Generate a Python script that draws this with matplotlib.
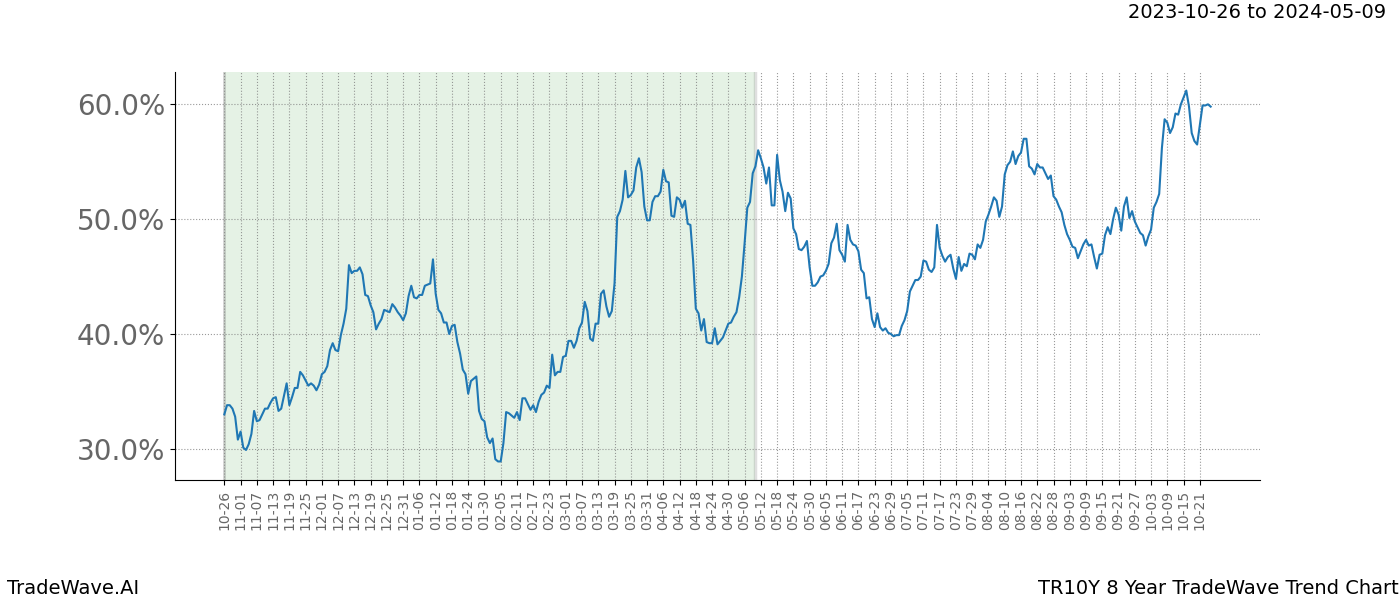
import matplotlib
matplotlib.use('Agg')
import matplotlib.pyplot as plt

# day offset from 2023-10-26 and trend value in percent
days = [0, 1, 2, 3, 4, 5, 6, 7, 8, 9, 10, 11, 12, 13, 14, 15, 16, 17, 18, 19, 20, 21, 23, 24, 25, 26, 27, 28, 29, 31,
        32, 33, 34, 35, 36, 37, 38, 39, 40, 41, 42, 43, 44, 45, 46, 47, 48, 49, 50, 51, 52, 53, 54, 55, 56, 57, 58, 59, 60,
        61, 62, 63, 64, 65, 66, 67, 68, 69, 70, 71, 72, 73, 74, 75, 76, 77, 78, 79, 80, 81, 82, 83, 84, 85, 86, 87, 88, 89,
        90, 91, 92, 93, 94, 95, 96, 97, 98, 99, 100, 101, 102, 103, 104, 105, 106, 107, 108, 109, 110, 111, 112, 113, 114,
        115, 116, 117, 118, 119, 120, 121, 122, 123, 124, 125, 126, 127, 128, 129, 130, 131, 132, 133, 134, 135, 136, 137,
        138, 139, 140, 141, 142, 143, 144, 145, 146, 147, 148, 149, 150, 151, 152, 153, 154, 155, 156, 157, 158, 159, 160,
        161, 162, 163, 164, 165, 166, 167, 168, 169, 170, 171, 172, 173, 174, 175, 176, 177, 178, 179, 180, 181, 182, 183,
        184, 186, 187, 188, 189, 190, 191, 192, 193, 194, 195, 196, 197, 198, 199, 200, 201, 202, 203, 204, 205, 206, 207,
        208, 209, 210, 211, 212, 213, 214, 215, 216, 217, 218, 219, 220, 221, 222, 223, 224, 225, 226, 227, 228, 229, 230,
        231, 232, 233, 234, 235, 236, 237, 238, 239, 240, 241, 242, 243, 244, 245, 246, 247, 248, 249, 250, 251, 252, 253,
        254, 255, 256, 257, 258, 259, 260, 261, 262, 263, 264, 265, 266, 267, 268, 269, 270, 271, 272, 273, 274, 275, 276,
        277, 278, 279, 280, 281, 282, 283, 284, 285, 286, 287, 288, 289, 290, 291, 292, 293, 294, 295, 296, 297, 298, 299,
        300, 301, 302, 303, 304, 305, 306, 307, 308, 309, 310, 311, 312, 313, 314, 315, 316, 317, 318, 319, 320, 321, 322,
        323, 324, 325, 326, 327, 328, 329, 330, 331, 332, 333, 334, 335, 336, 337, 338, 339, 340, 341, 342, 343, 344, 345,
        346, 347, 348, 349, 350, 351, 352, 353, 354, 355, 356, 357, 358, 359, 360, 361, 362, 363, 364]
values = [33.0, 33.8, 33.8, 33.5, 32.8, 30.8, 31.5, 30.1, 29.9, 30.4, 31.3, 33.3, 32.4, 32.5, 33.0, 33.5, 33.5, 34.0,
          34.4, 34.5, 33.3, 33.5, 35.7, 33.8, 34.5, 35.3, 35.3, 36.7, 36.4, 35.5, 35.7, 35.5, 35.1, 35.6, 36.5, 36.7,
          37.2, 38.6, 39.2, 38.6, 38.5, 39.9, 40.9, 42.2, 46.0, 45.3, 45.5, 45.5, 45.8, 45.2, 43.4, 43.3, 42.5, 41.9,
          40.4, 40.9, 41.3, 42.1, 42.0, 41.9, 42.6, 42.3, 41.9, 41.6, 41.2, 41.8, 43.3, 44.2, 43.2, 43.1, 43.4, 43.4,
          44.2, 44.3, 44.4, 46.5, 43.5, 42.1, 41.8, 41.0, 41.0, 40.0, 40.7, 40.8, 39.3, 38.3, 36.9, 36.5, 34.8, 35.9,
          36.1, 36.3, 33.3, 32.6, 32.4, 31.0, 30.5, 30.9, 29.1, 28.9, 28.9, 30.5, 33.2, 33.1, 32.9, 32.7, 33.2, 32.5,
          34.4, 34.4, 33.9, 33.4, 33.8, 33.2, 34.1, 34.7, 34.9, 35.5, 35.3, 38.2, 36.4, 36.7, 36.7, 38.0, 38.1, 39.4,
          39.4, 38.8, 39.4, 40.5, 41.0, 42.8, 42.0, 39.6, 39.4, 40.9, 40.9, 43.5, 43.8, 42.4, 41.5, 42.0, 44.4, 50.2,
          50.7, 51.7, 54.2, 51.9, 52.1, 52.5, 54.5, 55.3, 54.1, 51.1, 49.9, 49.9, 51.5, 52.0, 52.0, 52.4, 54.3, 53.3,
          53.2, 50.3, 50.2, 51.9, 51.7, 51.0, 51.6, 49.6, 49.5, 46.4, 42.2, 41.8, 40.3, 41.3, 39.3, 39.2, 39.2, 40.5,
          39.1, 39.4, 39.7, 40.9, 41.0, 41.5, 41.9, 43.2, 45.0, 47.9, 51.0, 51.5, 54.0, 54.6, 56.0, 55.3, 54.5, 53.1,
          54.5, 51.2, 51.2, 55.6, 53.4, 52.4, 50.7, 52.3, 51.8, 49.2, 48.7, 47.4, 47.3, 47.6, 48.1, 45.8, 44.2, 44.2,
          44.5, 45.0, 45.1, 45.5, 46.1, 47.9, 48.4, 49.6, 47.3, 46.9, 46.3, 49.5, 48.2, 47.8, 47.7, 47.2, 45.6, 45.3,
          43.1, 43.2, 41.3, 40.6, 41.8, 40.6, 40.3, 40.5, 40.1, 40.0, 39.8, 39.9, 39.9, 40.7, 41.2, 42.0, 43.7, 44.2,
          44.7, 44.7, 45.0, 46.4, 46.3, 45.6, 45.4, 45.8, 49.5, 47.5, 46.8, 46.3, 46.7, 46.9, 45.7, 44.8, 46.7, 45.5,
          46.1, 45.9, 47.0, 46.9, 46.5, 47.8, 47.5, 48.2, 49.8, 50.4, 51.1, 51.9, 51.6, 50.2, 51.1, 53.9, 54.7, 55.0,
          55.9, 54.8, 55.5, 55.8, 57.0, 57.0, 54.6, 54.4, 53.9, 54.8, 54.5, 54.5, 54.0, 53.5, 53.8, 52.0, 51.7, 51.1,
          50.6, 49.5, 48.7, 48.2, 47.6, 47.5, 46.6, 47.2, 47.8, 48.2, 47.7, 47.8, 46.7, 45.7, 46.9, 47.0, 48.6, 49.3,
          48.7, 50.0, 51.0, 50.4, 49.0, 51.1, 51.9, 50.1, 50.7, 49.8, 49.3, 48.8, 48.6, 47.7, 48.5, 49.1, 51.0, 51.5,
          52.2, 56.2, 58.7, 58.4, 57.5, 58.0, 59.2, 59.1, 60.0, 60.6, 61.2, 59.8, 57.5, 56.8, 56.5, 58.2, 59.9, 59.9,
          60.0, 59.8]

tick_labels = ['10-26', '11-01', '11-07', '11-13', '11-19', '11-25', '12-01', '12-07', '12-13', '12-19', '12-25',
               '12-31', '01-06', '01-12', '01-18', '01-24', '01-30', '02-05', '02-11', '02-17', '02-23', '03-01',
               '03-07', '03-13', '03-19', '03-25', '03-31', '04-06', '04-12', '04-18', '04-24', '04-30', '05-06',
               '05-12', '05-18', '05-24', '05-30', '06-05', '06-11', '06-17', '06-23', '06-29', '07-05', '07-11',
               '07-17', '07-23', '07-29', '08-04', '08-10', '08-16', '08-22', '08-28', '09-03', '09-09', '09-15',
               '09-21', '09-27', '10-03', '10-09', '10-15', '10-21']
tick_step = 6
shade_start = 0
shade_end = 196  # 05-09
y_ticks = [30, 40, 50, 60]

fig = plt.figure(figsize=(14, 6), dpi=100)
ax = fig.add_axes([0.125, 0.2, 0.775, 0.68])

ax.axvspan(shade_start, shade_end, color='green', alpha=0.1, lw=0)
ax.axvline(shade_start, color='gray', alpha=0.35, lw=2)
ax.axvline(shade_end, color='gray', alpha=0.25, lw=2.5)
ax.plot(days, values, color='#1f77b4', lw=1.5)

ax.set_xticks([i * tick_step for i in range(len(tick_labels))])
ax.set_xticklabels(tick_labels, rotation=90, fontsize=10, color='#666666')
ax.set_yticks(y_ticks)
ax.set_yticklabels(['%.1f%%' % v for v in y_ticks], fontsize=20, color='#666666')
ax.grid(True, color='gray', linestyle=':', lw=0.8, alpha=0.8)
ax.spines['top'].set_visible(False)
ax.spines['right'].set_visible(False)

fig.text(0.99, 0.98, '2023-10-26 to 2024-05-09', ha='right', va='center', fontsize=14)
fig.text(0.005, 0.02, 'TradeWave.AI', ha='left', va='center', fontsize=14)
fig.text(0.999, 0.02, 'TR10Y 8 Year TradeWave Trend Chart', ha='right', va='center', fontsize=14)

plt.savefig('out.png')
